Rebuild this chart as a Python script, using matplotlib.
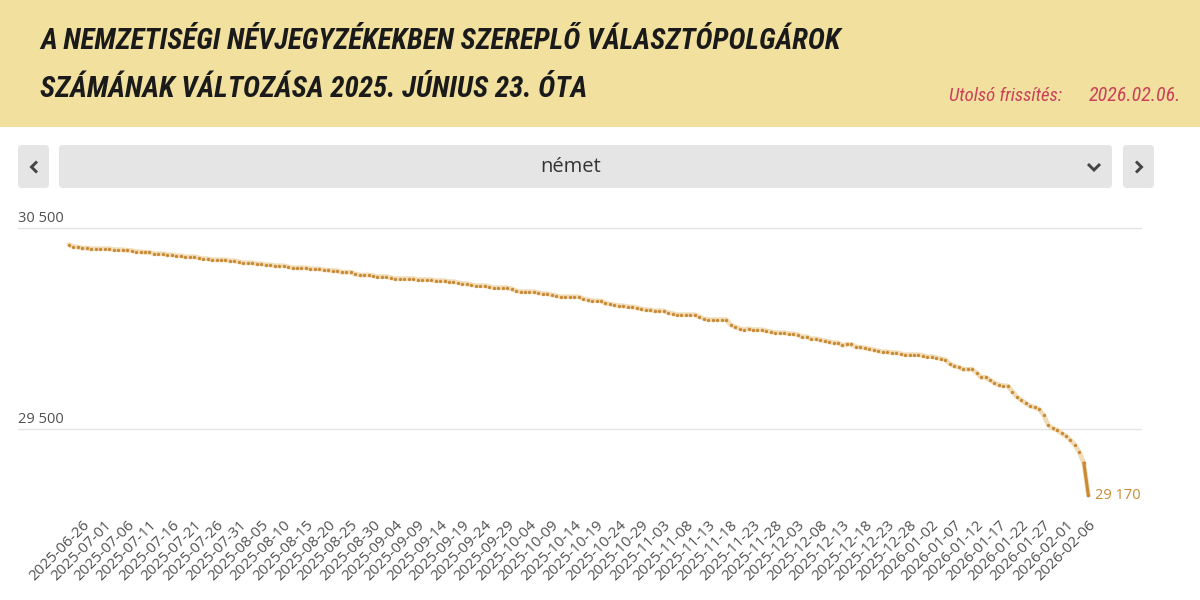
import numpy as np
import pandas as pd
import matplotlib
matplotlib.use('Agg')
import matplotlib.pyplot as plt
import matplotlib.dates as mdates
import matplotlib.transforms as mtransforms
from matplotlib import font_manager
from matplotlib.patches import FancyBboxPatch, Rectangle
from matplotlib.lines import Line2D

# daily number of voters in the register (német), from 2025-06-23
start_date = '2025-06-23'
values = [
    30417, 30407, 30405, 30400, 30400, 30397, 30397, 30397, 30397, 30397,
    30392, 30392, 30392, 30389, 30388, 30382, 30382, 30379, 30379, 30372,
    30372, 30372, 30367, 30367, 30362, 30362, 30357, 30357, 30357, 30352,
    30347, 30347, 30342, 30342, 30342, 30342, 30337, 30337, 30332, 30327,
    30327, 30327, 30322, 30322, 30317, 30317, 30312, 30312, 30312, 30307,
    30302, 30302, 30302, 30302, 30297, 30297, 30297, 30292, 30290, 30288,
    30288, 30280, 30280, 30280, 30271, 30266, 30266, 30266, 30263, 30258,
    30258, 30258, 30253, 30248, 30248, 30248, 30248, 30248, 30243, 30243,
    30243, 30243, 30238, 30238, 30238, 30233, 30233, 30228, 30223, 30223,
    30218, 30213, 30213, 30213, 30208, 30203, 30203, 30203, 30203, 30197,
    30188, 30183, 30183, 30183, 30183, 30178, 30173, 30173, 30168, 30163,
    30158, 30158, 30158, 30158, 30158, 30148, 30143, 30138, 30138, 30138,
    30125, 30122, 30117, 30113, 30113, 30108, 30108, 30103, 30098, 30093,
    30093, 30088, 30088, 30088, 30079, 30074, 30069, 30069, 30069, 30069,
    30069, 30059, 30049, 30044, 30044, 30044, 30044, 30044, 30019, 30009,
    29999, 29994, 29999, 29994, 29994, 29994, 29989, 29984, 29979, 29979,
    29979, 29974, 29974, 29969, 29959, 29959, 29949, 29949, 29944, 29939,
    29934, 29929, 29929, 29916, 29921, 29921, 29909, 29906, 29904, 29899,
    29894, 29889, 29884, 29884, 29880, 29880, 29875, 29870, 29870, 29870,
    29870, 29865, 29860, 29860, 29855, 29850, 29845, 29825, 29813, 29808,
    29797, 29797, 29797, 29780, 29757, 29757, 29744, 29730, 29719, 29715,
    29714, 29686, 29661, 29644, 29628, 29614, 29608, 29598, 29570, 29520,
    29503, 29495, 29479, 29465, 29445, 29420, 29385, 29330, 29170,
]
dates = pd.date_range(start_date, periods=len(values), freq='D')
tick_dates = pd.date_range('2025-06-26', '2026-02-06', freq='5D')
tick_labels = [d.strftime('%Y-%m-%d') for d in tick_dates]
y_ticks = [29500, 30500]
y_tick_labels = ['29 500', '30 500']
last_label = '29 170'

title_lines = ['A NEMZETISÉGI NÉVJEGYZÉKEKBEN SZEREPLŐ VÁLASZTÓPOLGÁROK',
               'SZÁMÁNAK VÁLTOZÁSA 2025. JÚNIUS 23. ÓTA']
update_label = 'Utolsó frissítés:'
update_date = '2026.02.06.'
selected = 'német'

header_col = '#f1e09e'
line_col = '#c98a35'
halo_col = '#f0dcb8'
red_col = '#c9415b'
grey_text = '#505050'
box_col = '#e5e5e5'

W, H = 1200, 600

# pick a condensed face for the header if one is installed
avail = font_manager.fontManager.ttflist
title_family, title_stretch = 'Roboto', 'normal'
prefs = ['Roboto Condensed', 'Open Sans Condensed', 'Fira Sans Condensed',
         'Noto Sans Condensed', 'Liberation Sans Narrow', 'DejaVu Sans Condensed']
found = False
for name in prefs:
    if any(f.name == name for f in avail):
        title_family, title_stretch = name, 'normal'
        found = True
        break
if not found:
    for name in ['Noto Sans', 'Open Sans', 'DejaVu Sans']:
        if any(f.name == name and str(f.stretch) in ('condensed', 'semi-condensed') for f in avail):
            title_family, title_stretch = name, 'condensed'
            break

plt.rcParams['font.family'] = ['Open Sans', 'DejaVu Sans']

fig = plt.figure(figsize=(12, 6), dpi=100)
px = mtransforms.IdentityTransform()

# header band
fig.patches.append(Rectangle((0, 1 - 127 / H), 1, 127 / H, transform=fig.transFigure,
                             facecolor=header_col, edgecolor='none', zorder=0))

t1 = fig.text(40 / W, 1 - 49 / H, title_lines[0], family=title_family, fontstretch=title_stretch,
              fontweight='bold', style='italic', fontsize=22, color='#1a1a1a', va='baseline')
t2 = fig.text(40 / W, 1 - 97 / H, title_lines[1], family=title_family, fontstretch=title_stretch,
              fontweight='bold', style='italic', fontsize=22, color='#1a1a1a', va='baseline')
u1 = fig.text(949 / W, 1 - 101 / H, update_label, family=title_family, fontstretch=title_stretch,
              style='italic', fontsize=13, color=red_col, va='baseline')
u2 = fig.text(1089 / W, 1 - 101 / H, update_date, family=title_family, fontstretch=title_stretch,
              style='italic', fontsize=13, color=red_col, va='baseline')

# dropdown row
def box(x0, x1, y0, y1):
    p = FancyBboxPatch((x0, H - y1), x1 - x0, y1 - y0, boxstyle='round,pad=0,rounding_size=4',
                       transform=px, facecolor=box_col, edgecolor='none')
    fig.patches.append(p)

box(18, 49, 145, 188)
box(59, 1112, 145, 188)
box(1123, 1154, 145, 188)

def chevron(xs, ys):
    fig.lines.append(Line2D(xs, [H - y for y in ys], transform=px, color='#444444', lw=2.1,
                            solid_joinstyle='miter', solid_capstyle='butt'))

chevron([37, 31.5, 37], [161.5, 167, 172.5])
chevron([1136, 1141.5, 1136], [161.5, 167, 172.5])
chevron([1088, 1094, 1100], [164, 170, 164])
fig.text(571 / W, 1 - 167 / H, selected, ha='center', va='center', fontsize=14.5, color='#333333')

# chart
ax = fig.add_axes([18 / W, 1 - 505 / H, (1142 - 18) / W, (505 - 200) / H])
d0 = mdates.date2num(dates[0])
ax.set_xlim(d0 - 11.4, d0 + 240)
ax.set_ylim(29500 - (505 - 429) * 4.975, 30500 + (228 - 200) * 4.975)

ax.plot(dates, values, color=halo_col, lw=3.4, zorder=2, solid_capstyle='round')
ax.plot(dates, values, 'o', ms=2.4, color=line_col, mew=0, zorder=3)
ax.plot(dates[-2:], values[-2:], color=line_col, lw=2.2, zorder=3)
ax.annotate(last_label, xy=(dates[-1], values[-1]), xytext=(5, 0), textcoords='offset points',
            va='center', ha='left', fontsize=10.5, color=line_col)

ax.set_yticks(y_ticks)
ax.set_yticklabels([])
ax.tick_params(axis='y', length=0)
ax.grid(axis='y', color='#e4e4e4', lw=1)
for v, lab in zip(y_ticks, y_tick_labels):
    ax.annotate(lab, xy=(0, v), xycoords=ax.get_yaxis_transform(), xytext=(0, 1.5),
                textcoords='offset points', ha='left', va='bottom', fontsize=10.5, color=grey_text)

ax.set_xticks(tick_dates)
ax.set_xticklabels(tick_labels, rotation=45, ha='right', va='center', rotation_mode='anchor',
                   fontsize=10.8, color=grey_text)
ax.tick_params(axis='x', length=0, pad=13)
shift = mtransforms.ScaledTranslation(5 / 100, 0, fig.dpi_scale_trans)
for lab in ax.get_xticklabels():
    lab.set_transform(lab.get_transform() + shift)

for s in ax.spines.values():
    s.set_visible(False)
ax.set_facecolor('none')

# fit the header texts to the reference widths
fig.canvas.draw()
r = fig.canvas.get_renderer()
w1 = t1.get_window_extent(r).width
fs = 22 * (798 / w1)
t1.set_fontsize(fs)
t2.set_fontsize(fs)
wu = u1.get_window_extent(r).width
u1.set_fontsize(13 * 113 / wu)
wd = u2.get_window_extent(r).width
u2.set_fontsize(13 * 92 / wd)

fig.savefig('out.png', dpi=100)
